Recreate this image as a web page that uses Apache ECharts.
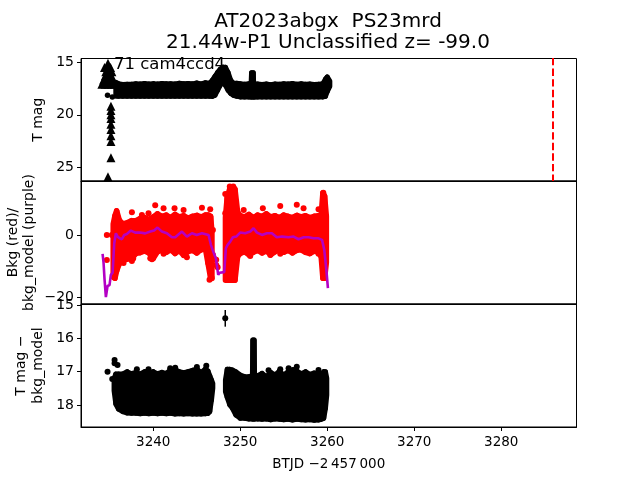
<!DOCTYPE html>
<html><head><meta charset="utf-8">
<style>html,body{margin:0;background:#fff}#c{width:640px;height:480px}</style>
<script src="https://cdn.jsdelivr.net/npm/echarts@6/dist/echarts.min.js"></script></head>
<body><div id="c"></div>
<script>
const titleText = "AT2023abgx  PS23mrd\n21.44w-P1 Unclassified z= -99.0";
const noteText = "71 cam4ccd4";
const xTicks = [3240,3250,3260,3270,3280];
const y1Ticks = [15,20,25];
const y2Ticks = [-20,0];
const y3Ticks = [15,16,17,18];
const limitLine = [[3285.95,14.6],[3285.95,26.3]];

// Panel 1: T mag
const magT = [3235.7,3236,3236.5,3237,3237.5,3238,3238.5,3239,3239.5,3240,3240.5,3241,3241.5,3242,3242.5,3243,3243.5,3244,3244.5,3245,3245.5,3246,3246.5,3246.8,3247.1,3247.4,3247.7,3248,3248.3,3248.6,3248.9,3249.2,3249.6,3250,3250.5,3251,3251.25,3251.3,3251.5,3251.55,3251.7,3252,3252.5,3253,3253.5,3254,3254.5,3255,3255.5,3256,3256.5,3257,3257.5,3258,3258.5,3259,3259.5,3259.8,3260,3260.3];
const magHi = [16.9,17.05,17.12,17.1,17.1,17.05,17.08,17.02,17.08,17.04,17.08,17.02,17.06,17.04,17.08,17.0,17.06,17.02,17.06,16.98,17.06,16.95,17.0,16.7,16.34,15.96,15.67,15.48,15.48,15.96,16.7,17.0,17.0,17.05,17.1,17.05,17.05,16.0,16.0,17.08,17.08,17.08,17.12,17.08,17.14,17.08,17.1,17.05,17.08,17.02,17.1,17.06,17.1,17.08,17.12,17.1,17.05,16.6,16.4,16.8];
const magLo = [18.25,18.25,18.25,18.25,18.25,18.25,18.25,18.25,18.25,18.25,18.25,18.25,18.25,18.25,18.25,18.25,18.25,18.25,18.25,18.25,18.25,18.25,18.25,18.25,18.15,17.68,17.2,16.72,17.2,17.68,17.97,18.15,18.25,18.3,18.3,18.3,18.3,18.3,18.3,18.3,18.3,18.3,18.3,18.3,18.3,18.3,18.3,18.3,18.3,18.3,18.3,18.3,18.3,18.3,18.3,18.3,18.3,18.25,17.8,17.3];
const limT = [3234.8,3234.4,3234.75,3235.1,3234.55,3234.9,3235.25,3234.5,3234.85,3235.2,3234.3,3234.65,3235,3235.35,3234.1,3234.45,3234.8,3235.15,3235.5,3235.14,3235.14,3235.14,3235.14,3235.14,3235.14,3235.14,3235.14,3235.14,3234.8];
const limMag = [15.1,15.5,15.5,15.5,15.9,15.9,15.9,16.3,16.3,16.3,16.7,16.7,16.7,16.7,17.1,17.1,17.1,17.1,17.1,19.2,19.6,20.0,20.35,20.9,21.4,22,22.55,24.1,25.9];
const magDotT = [3234.75,3235.3];
const magDotV = [18.15,18.3];

// Panel 2: background (red) and model (purple)
const bkgT = [3235.4,3235.6,3235.8,3236.1,3236.5,3237,3237.5,3238,3238.5,3239,3239.5,3240,3240.5,3241,3241.5,3242,3242.5,3243,3243.5,3244,3244.5,3245,3245.5,3246,3246.3,3246.6,3246.75,3248.3,3248.5,3248.8,3249.1,3249.4,3249.7,3250,3250.5,3251,3251.5,3252,3252.5,3253,3253.5,3254,3254.5,3255,3255.5,3256,3256.5,3257,3257.5,3258,3258.5,3259,3259.3,3259.5,3259.7,3259.9];
const bkgHi = [3.5,6.2,7.8,4.8,3.6,3.9,4.6,4.6,5.3,5.6,5.0,5.8,6.8,6.0,6.4,5.6,6.6,5.8,6.2,5.4,6.0,6.3,5.8,6.4,6.4,6.0,1.0,5.6,12.1,15.0,14.6,14.8,7.4,6.2,5.8,6.6,5.6,6.4,6.0,6.8,5.8,6.2,5.6,6.4,6.0,5.6,6.3,5.8,6.2,5.6,6.0,6.2,6.3,13.5,12.6,6.0];
const bkgLo = [-13.7,-14,-11.6,-9.3,-8.3,-7.8,-7.8,-6,-5.7,-5.2,-5.8,-7.6,-5.4,-5,-5.6,-4.8,-6.0,-5.0,-6.6,-5.4,-5.0,-5.8,-4.8,-4.5,-9.2,-14,-13.4,-14.6,-14.6,-14.6,-14.6,-14.6,-7.0,-6,-5.4,-6.4,-5.6,-5.0,-5.8,-5.2,-6.4,-5.4,-4.8,-5.6,-5.0,-5.8,-5.0,-4.8,-5.6,-6.0,-5.2,-5.6,-7.0,-14,-14,-9];
const bkgDotT = [3234.67,3235.25,3234.67,3240.23,3237.55,3254.6,3256.5,3248.28,3248.28,3239.66,3243.87,3251.15,3246.86,3246.94,3247.24,3247.24,3247.4,3246.74,3246.47,3237.7,3236.8,3248.8,3249.2,3259.55,3238.7,3239.46,3241.19,3242.45,3243.49,3245.6,3246.55,3236.59,3237.55,3239.85,3241.19,3245.02,3253.45,3254.6,3257.66,3259,3250.4,3252.6,3257.28,3259,3246.86];
const bkgDotV = [0,0,-8.1,9.6,7.3,9.3,9.7,13.2,7,-7.5,-7.2,-6.8,-6.4,-7.5,-8,-9.7,-10.4,-14,-14.5,-7.6,-6.9,15.6,15.6,13.6,6.45,7,8.6,8.6,8.06,8.8,8.3,-9.1,-8.4,-7.85,-6.1,-5.7,-6.5,-6.1,-5.4,-6.1,8.06,8.6,8.6,8.3,1.6];
const modelT = [3234.18,3234.29,3234.41,3234.56,3234.75,3234.98,3235.13,3235.33,3235.52,3235.71,3235.9,3236.13,3236.4,3236.67,3236.97,3237.43,3237.93,3238.5,3239.08,3239.66,3240.1,3240.5,3241,3241.57,3242.15,3242.53,3243.3,3243.87,3244.45,3245,3245.6,3246.36,3246.63,3246.94,3247.2,3247.47,3247.63,3248.16,3248.35,3248.55,3248.85,3249.16,3249.54,3250,3250.57,3251.15,3251.53,3251.92,3252.5,3253.07,3253.64,3254.2,3254.8,3255.56,3256.13,3256.7,3257.3,3257.86,3258.43,3259,3259.4,3259.66,3259.9,3260.08];
const modelV = [-6.13,-8.9,-14.5,-20.1,-16.5,-16.2,-12.9,-12.2,-2.7,0.54,-0.54,-1.1,-1.4,0,0.3,1.4,0.75,0.75,0.5,1.07,1.4,2.36,1.07,0.54,-0.75,-0.75,1.07,-0.54,0.54,0,0.54,0,-3.2,-5.7,-7.5,-12.9,-12.2,-12,-4.3,-3.2,-2.15,-0.75,-0.54,0.75,0.54,1.07,2.15,0.75,0,0.54,0.54,-0.75,-0.54,-0.75,-0.54,-1.4,-0.75,-0.75,-1.1,-1.1,-1.6,-4.8,-11.3,-17.2];

// Panel 3: T mag minus model
const diffT = [3235.5,3235.7,3236,3236.5,3237,3237.5,3238,3238.5,3239,3239.5,3240,3240.5,3241,3241.5,3242,3242.5,3243,3243.5,3244,3244.5,3245,3245.5,3246,3246.3,3246.5,3246.7,3246.85,3248.3,3248.5,3248.8,3249.1,3249.5,3250,3250.5,3251,3251.4,3251.45,3251.6,3251.65,3252,3252.5,3253,3253.5,3254,3254.5,3255,3255.5,3256,3256.5,3257,3257.5,3258,3258.5,3259,3259.3,3259.6,3259.8,3259.95];
const diffHi = [17.2,17.07,17.07,17.07,17.0,17.06,17.02,17.07,17.0,17.05,17.0,17.06,17.02,17.05,16.95,16.93,17.0,17.03,17.0,16.96,16.92,17.03,16.92,16.98,17.12,17.25,17.35,17.25,16.93,16.93,16.95,17.0,17.1,17.15,17.15,17.12,16.05,16.05,17.12,17.12,17.05,17.15,17.02,17.1,16.98,17.1,17.0,16.95,16.98,17.06,17.0,17.08,17.04,17.05,17.1,17.0,17.0,17.2];
const diffLo = [17.57,17.97,18.12,18.2,18.24,18.25,18.25,18.26,18.25,18.26,18.25,18.26,18.25,18.26,18.25,18.27,18.26,18.27,18.26,18.27,18.27,18.27,18.26,18.25,18.2,17.85,17.5,17.6,17.77,18.0,18.1,18.3,18.4,18.4,18.42,18.42,18.42,18.42,18.42,18.42,18.43,18.42,18.44,18.42,18.43,18.44,18.43,18.45,18.43,18.44,18.45,18.44,18.46,18.45,18.43,18.4,18.1,17.7];
const diffDotT = [3234.75,3235.29,3235.56,3235.56,3235.9,3248.28,3256.5,3256.1,3241.95,3242.53,3245.02,3246.1,3253.26,3254.6,3255.56,3259,3238.12,3239.46];
const diffDotV = [17.0,17.22,16.65,16.75,16.8,15.4,16.85,16.95,16.9,16.88,16.86,16.82,16.96,16.93,16.9,16.95,16.93,16.93];
const errT = [3248.28];
const errLo = [15.15];
const errHi = [15.65];

const zip = (a,b)=>a.map((v,i)=>[v,b[i]]);
// Each data row holds one envelope sample and the next one; a ribbon is drawn between them.
const band = (t,lo,hi)=>t.map((v,i)=>i<t.length-1&&t[i+1]-v<1?[v,lo[i],hi[i],t[i+1],lo[i+1],hi[i+1]]:null).filter(Boolean);
const bandSeries = (idx,data,color,w)=>({
  type:'custom',xAxisIndex:idx,yAxisIndex:idx,clip:true,data,encode:{x:[0,3],y:[1,2,4,5]},silent:true,
  renderItem:(p,api)=>{
    const pts=[[0,1],[0,2],[3,5],[3,4]].map(([a,b])=>api.coord([api.value(a),api.value(b)]));
    return {type:'polygon',shape:{points:pts},style:{fill:color,stroke:color,lineWidth:w,lineJoin:'round'}};
  }
});
const dots=(idx,data,color,size,symbol)=>({type:'scatter',xAxisIndex:idx,yAxisIndex:idx,data,symbol:symbol||'circle',symbolSize:size,itemStyle:{color,opacity:1},silent:true,clip:true});
const errSeries=(idx)=>({type:'custom',xAxisIndex:idx,yAxisIndex:idx,clip:true,silent:true,data:errT.map((v,i)=>[v,errLo[i],errHi[i]]),encode:{x:0,y:[1,2]},
  renderItem:(p,api)=>{const a=api.coord([api.value(0),api.value(1)]),b=api.coord([api.value(0),api.value(2)]);
    return {type:'line',shape:{x1:a[0],y1:a[1],x2:b[0],y2:b[1]},style:{stroke:'#000',lineWidth:1.5}};}});

const font='"DejaVu Sans"';
const gridL=81,gridW=495.5;
const xAxis=(gi,show)=>({type:'value',gridIndex:gi,min:3231.7,max:3288.65,
  axisLine:{show:true,onZero:false,lineStyle:{color:'#000',width:1}},
  splitLine:{show:false},
  axisTick:{show:show,length:4,lineStyle:{color:'#000'},customValues:xTicks},
  axisLabel:{show:show,color:'#000',fontFamily:font,fontSize:13.5,margin:8,customValues:xTicks,formatter:v=>String(v)},
  name:show?'BTJD \u22122\u2009457\u2009000':'',nameLocation:'middle',nameGap:30,nameMoveOverlap:false,nameTextStyle:{color:'#000',fontFamily:font,fontSize:13.5}});
const yAxis=(gi,min,max,inv,ticks,name,gap)=>({type:'value',gridIndex:gi,min,max,inverse:inv,
  axisLine:{show:true,onZero:false,lineStyle:{color:'#000',width:1}},
  splitLine:{show:false},
  axisTick:{show:true,length:4,lineStyle:{color:'#000'},customValues:ticks},
  axisLabel:{color:'#000',fontFamily:font,fontSize:14,margin:7,customValues:ticks,formatter:v=>String(v).replace('-','\u2212')},
  name,nameLocation:'middle',nameRotate:90,nameGap:gap,nameMoveOverlap:false,nameTextStyle:{color:'#000',fontFamily:font,fontSize:14,lineHeight:16.5}});

const chart=echarts.init(document.getElementById('c'),null,{renderer:'canvas'});
const gridCommon={left:gridL,width:gridW,show:true,borderColor:'#000',borderWidth:1,backgroundColor:'transparent',outerBoundsMode:'none'};
chart.setOption({
  animation:false,backgroundColor:'#fff',
  title:{text:titleText,left:323,textAlign:'center',top:6,textStyle:{color:'#000',fontFamily:font,fontSize:20,fontWeight:'normal',lineHeight:21}},
  grid:[
    {...gridCommon,top:58.5,height:122.5},
    {...gridCommon,top:181,height:123},
    {...gridCommon,top:304,height:123}
  ],
  xAxis:[xAxis(0,false),xAxis(1,false),xAxis(2,true)],
  yAxis:[
    yAxis(0,14.65,26.3,true,y1Ticks,'T mag',34),
    yAxis(1,-22.3,17.4,false,y2Ticks,'Bkg (red)/\nbkg_model (purple)',43),
    yAxis(2,14.97,18.66,true,y3Ticks,'T mag \u2212\nbkg_model',34.5)
  ],
  series:[
    bandSeries(0,band(magT,magLo,magHi),'#000',5),
    dots(0,zip(limT,limMag),'#000',9,'triangle'),
    dots(0,zip(magDotT,magDotV),'#000',5.5),
    {type:'line',xAxisIndex:0,yAxisIndex:0,data:limitLine,symbol:'none',silent:true,clip:true,lineStyle:{color:'#ff0000',width:2,type:[7.4,3.2]}},
    bandSeries(1,band(bkgT,bkgLo,bkgHi),'#ff0000',5.5),
    dots(1,zip(bkgDotT,bkgDotV),'#ff0000',6),
    {type:'line',xAxisIndex:1,yAxisIndex:1,data:zip(modelT,modelV),symbol:'none',silent:true,z:5,lineStyle:{color:'#b400c4',width:2.6}},
    bandSeries(2,band(diffT,diffLo,diffHi),'#000',5),
    dots(2,zip(diffDotT,diffDotV),'#000',6),
    errSeries(2)
  ],
  graphic:[{type:'text',left:114,top:56,z:100,style:{text:noteText,fill:'#000',font:'16.5px "DejaVu Sans"'}}]
});
</script></body></html>
